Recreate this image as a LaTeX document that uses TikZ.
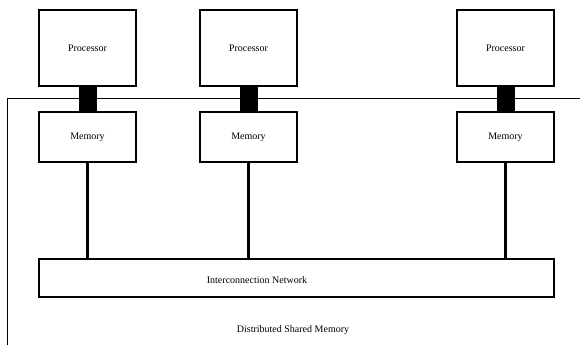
\documentclass[tikz,border=0pt]{standalone}
\usepackage{fontspec}
\setmainfont{Liberation Serif}
\usepackage{xcolor}
\usepackage{tikz}

\begin{document}
\begin{tikzpicture}[x=1pt, y=-1pt, every node/.style={text centered, inner sep=0pt},
        procbox/.style={draw, line width=1.2pt, minimum width=97pt, minimum height=76pt},
        membox/.style={draw, line width=1.2pt, minimum width=97pt, minimum height=50pt},
        netbox/.style={draw, line width=1.2pt, minimum width=515pt, minimum height=38pt},
        bus/.style={line width=18pt, black},
        link/.style={line width=3pt, black}]
        \useasboundingbox (0,0) rectangle (580,345);

        % distributed shared memory region
        \draw[line width=0.8pt] (7,345) -- (7,98) -- (580,98);

        \node[procbox] (proc1) at (87.5,48) {Processor};
        \node[procbox] (proc2) at (248.5,48) {Processor};
        \node[procbox] (proc3) at (505.5,48) {Processor};

        \node[membox] (mem1) at (87.5,137) {Memory};
        \node[membox] (mem2) at (248.5,137) {Memory};
        \node[membox] (mem3) at (505.5,137) {Memory};

        \node[netbox] (net) at (296.5,278) {};
        \node (netlabel) at (257,280) {Interconnection Network};
        \node (dsm) at (293,330) {Distributed Shared Memory};

        \draw[bus] (proc1.south) -- (mem1.north);
        \draw[bus] (proc2.south) -- (mem2.north);
        \draw[bus] (proc3.south) -- (mem3.north);

        \draw[link] (mem1.south) -- (mem1.south |- net.north);
        \draw[link] (mem2.south) -- (mem2.south |- net.north);
        \draw[link] (mem3.south) -- (mem3.south |- net.north);
    \end{tikzpicture}
\end{document}
